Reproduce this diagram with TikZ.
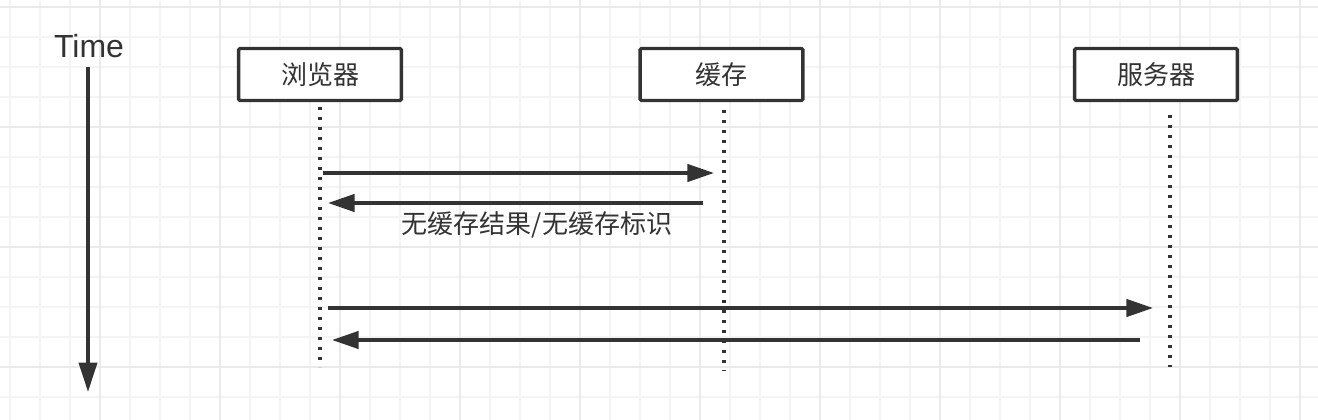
\documentclass[tikz,border=0pt]{standalone}
\usepackage{fontspec}
\setmainfont{Liberation Sans}
\newfontfamily\cjk{Noto Sans CJK SC}
\usetikzlibrary{arrows.meta,positioning}

\definecolor{ink}{HTML}{333333}
\definecolor{gridminor}{HTML}{F4F4F4}
\definecolor{gridmajor}{HTML}{EAEAEA}

\tikzset{
  actor/.style={draw=ink, line width=2.6pt, fill=white, rounded corners=1pt,
    minimum width=122pt, minimum height=39pt, inner sep=0pt,
    text=ink, font=\cjk\fontsize{19.5}{23}\selectfont},
  lifeline/.style={ink, line width=2.6pt, dash pattern=on 2.4pt off 5.1pt},
  msg/.style={ink, line width=2.6pt, -{Triangle[length=20pt,width=13pt]}},
}

\begin{document}
\begin{tikzpicture}[x=0.75pt, y=-0.75pt]
  \useasboundingbox (0,0) rectangle (1318,420);
  \fill[white] (0,0) rectangle (1318,420);
  % grid paper
  \foreach \x in {10,40,...,1300} \draw[gridminor, line width=1.5pt] (\x,0) -- (\x,420);
  \foreach \y in {7,37,...,400} \draw[gridminor, line width=1.5pt] (0,\y) -- (1318,\y);
  \foreach \x in {100,220,...,1300} \draw[gridmajor, line width=1.5pt] (\x,0) -- (\x,420);
  \foreach \y in {7,127,...,400} \draw[gridmajor, line width=1.5pt] (0,\y) -- (1318,\y);

  % time axis
  \node (time) [anchor=base, text=ink, font=\fontsize{24}{28}\selectfont] at (89,58) {Time};
  \coordinate (time end) at (88,392);
  \draw[ink, line width=3pt, -{Triangle[length=22pt,width=13.5pt]}] (88,67) -- (time end);

  % actors
  \node[actor] (browser) at (320,74.5) {浏览器};
  \node[actor] (cache) at (721.5,74.5) {缓存};
  \node[actor] (server) at (1156,74.5) {服务器};

  % lifelines
  \coordinate (browser top) at (320,107);
  \coordinate (browser end) at (320,367);
  \coordinate (cache top) at (724,110);
  \coordinate (cache end) at (724,371);
  \coordinate (server top) at (1170,115);
  \coordinate (server end) at (1170,367);
  \draw[lifeline] (browser top) -- (browser end);
  \draw[lifeline] (cache top) -- (cache end);
  \draw[lifeline] (server top) -- (server end);

  % messages
  \coordinate (ask cache) at (323,173);
  \coordinate (at cache) at (714,173);
  \coordinate (cache reply) at (703,203);
  \coordinate (back browser) at (328,203);
  \coordinate (ask server) at (328,308);
  \coordinate (at server) at (1153,308);
  \coordinate (server reply) at (1140,340);
  \coordinate (browser again) at (332,340);
  \draw[msg] (ask cache) -- (at cache);
  \draw[msg] (cache reply) -- (back browser);
  \node (miss) [text=ink, font=\cjk\fontsize{19.5}{23}\selectfont] at (537,225) {无缓存结果/无缓存标识};
  \draw[msg] (ask server) -- (at server);
  \draw[msg] (server reply) -- (browser again);
\end{tikzpicture}
\end{document}
